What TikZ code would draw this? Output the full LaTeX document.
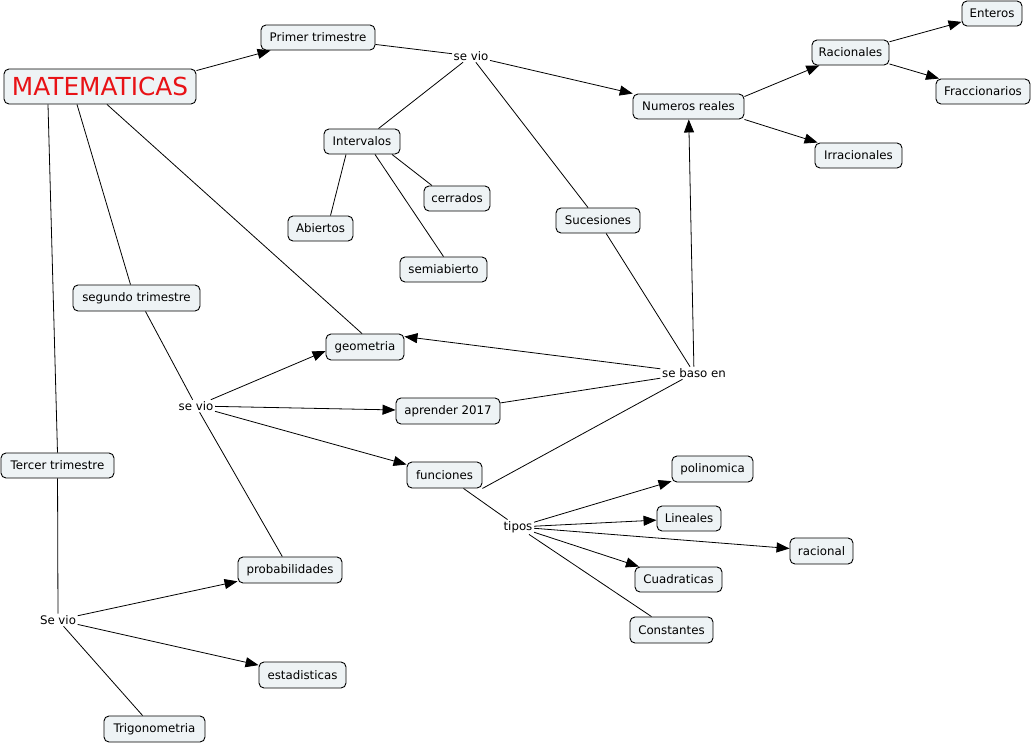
\documentclass[tikz,border=0pt]{standalone}
\usepackage{fontspec}
\setmainfont{DejaVu Sans}
\usetikzlibrary{arrows.meta}
\definecolor{cfill}{RGB}{238,243,245}
\definecolor{mred}{RGB}{232,18,22}
\begin{document}
\begin{tikzpicture}[x=1pt,y=-1pt,
  concept/.style={draw=black, fill=cfill, rounded corners=5pt, line width=0.9pt, inner sep=0pt, font=\fontsize{11.8}{13}\selectfont, text=black},
  linkp/.style={inner sep=1.5pt, font=\fontsize{11.8}{13}\selectfont, text=black},
  conn/.style={line width=0.8pt},
  arr/.style={conn, -{Triangle[length=13pt,width=10pt]}}
]
\useasboundingbox (0,0) rectangle (1034,745);

% concepts
\node[concept, minimum width=192pt, minimum height=35pt, font=\fontsize{24.8}{28}\selectfont, text=mred] (mat) at (100,86.5) {MATEMATICAS};
\node[concept, minimum width=114pt, minimum height=25pt] (primer) at (318,37.5) {Primer trimestre};
\node[concept, minimum width=111pt, minimum height=25pt] (numeros) at (688.5,106.5) {Numeros reales};
\node[concept, minimum width=77pt, minimum height=25pt] (racionales) at (850.5,52.5) {Racionales};
\node[concept, minimum width=60pt, minimum height=25pt] (enteros) at (992,13.5) {Enteros};
\node[concept, minimum width=94pt, minimum height=25pt] (fracc) at (983,91.5) {Fraccionarios};
\node[concept, minimum width=87pt, minimum height=25pt] (irr) at (858.5,155.5) {Irracionales};
\node[concept, minimum width=76pt, minimum height=25pt] (interv) at (362,141.5) {Intervalos};
\node[concept, minimum width=66pt, minimum height=25pt] (cerrados) at (457,198.5) {cerrados};
\node[concept, minimum width=65pt, minimum height=25pt] (abiertos) at (320.5,228.5) {Abiertos};
\node[concept, minimum width=87pt, minimum height=25pt] (semi) at (443.5,269.5) {semiabierto};
\node[concept, minimum width=84pt, minimum height=25pt] (suces) at (598,220.5) {Sucesiones};
\node[concept, minimum width=127pt, minimum height=26pt] (segundo) at (136.5,298) {segundo trimestre};
\node[concept, minimum width=78pt, minimum height=26pt] (geom) at (365,347) {geometria};
\node[concept, minimum width=104pt, minimum height=26pt] (aprender) at (448,411) {aprender 2017};
\node[concept, minimum width=113pt, minimum height=25pt] (tercer) at (57.5,465.5) {Tercer trimestre};
\node[concept, minimum width=75pt, minimum height=26pt] (funciones) at (444.5,475) {funciones};
\node[concept, minimum width=81pt, minimum height=26pt] (polin) at (712.5,469) {polinomica};
\node[concept, minimum width=64pt, minimum height=25pt] (lineales) at (689,518.5) {Lineales};
\node[concept, minimum width=63pt, minimum height=26pt] (racional) at (821.5,551) {racional};
\node[concept, minimum width=87pt, minimum height=25pt] (cuadr) at (678.5,579.5) {Cuadraticas};
\node[concept, minimum width=83pt, minimum height=26pt] (const) at (671.5,630) {Constantes};
\node[concept, minimum width=104pt, minimum height=26pt] (prob) at (290,570) {probabilidades};
\node[concept, minimum width=87pt, minimum height=26pt] (estad) at (302.5,675) {estadisticas};
\node[concept, minimum width=101pt, minimum height=26pt] (trig) at (154.5,729) {Trigonometria};

% linking phrases
\node[linkp] (sevio1) at (471,56) {se vio};
\node[linkp] (sebaso) at (694,373) {se baso en};
\node[linkp] (sevio2) at (196,406) {se vio};
\node[linkp] (tipos) at (518,527) {tipos};
\node[linkp] (sevio3) at (58,620) {Se vio};

% connectors
\draw[arr] ([yshift=-2pt]mat.north east) -- ([xshift=10pt]primer.south west);
\draw[conn] (primer) -- (sevio1);
\draw[arr] (sevio1) -- (numeros);
\draw[conn] (sevio1) -- (interv);
\draw[conn] (sevio1) -- (suces);
\draw[arr] ([yshift=-3pt]numeros.north east) -- (racionales);
\draw[arr] (numeros.south east) -- (irr);
\draw[arr] (racionales) -- (enteros);
\draw[arr] (racionales) -- (fracc);
\draw[conn] ([xshift=-16pt]interv.south) -- ([xshift=10pt]abiertos.north);
\draw[conn] ([xshift=30pt]interv.south) -- ([xshift=-25pt]cerrados.north);
\draw[conn] ([xshift=13pt]interv.south) -- (semi.north);
\draw[conn] (suces) -- (sebaso);
\draw[arr] (sebaso) -- (numeros);
\draw[arr] (sebaso) -- ([yshift=-3pt]geom.north east);
\draw[conn] (aprender) -- (sebaso);
\draw[conn] (funciones.south east) -- (sebaso);
\draw[conn] ([xshift=-23pt]mat.south) -- ([xshift=-6pt]segundo.north);
\draw[conn] ([xshift=7pt]mat.south) -- ([xshift=-3pt]geom.north);
\draw[conn] ([xshift=-52pt]mat.south) -- (tercer.north);
\draw[conn] ([xshift=9pt]segundo.south) -- (sevio2);
\draw[conn] (sevio2) -- (prob);
\draw[arr] (sevio2) -- ([yshift=-4pt]geom.west);
\draw[arr] (sevio2) -- (aprender);
\draw[arr] (sevio2) -- (funciones);
\draw[conn] (funciones) -- (tipos);
\draw[arr] (tipos) -- (polin);
\draw[arr] (tipos) -- (lineales);
\draw[arr] (tipos) -- (racional);
\draw[arr] (tipos) -- (cuadr);
\draw[conn] (tipos) -- (const);
\draw[conn] (tercer) -- (sevio3);
\draw[arr] (sevio3) -- (prob);
\draw[arr] (sevio3) -- (estad);
\draw[conn] (sevio3) -- (trig);
\end{tikzpicture}
\end{document}
